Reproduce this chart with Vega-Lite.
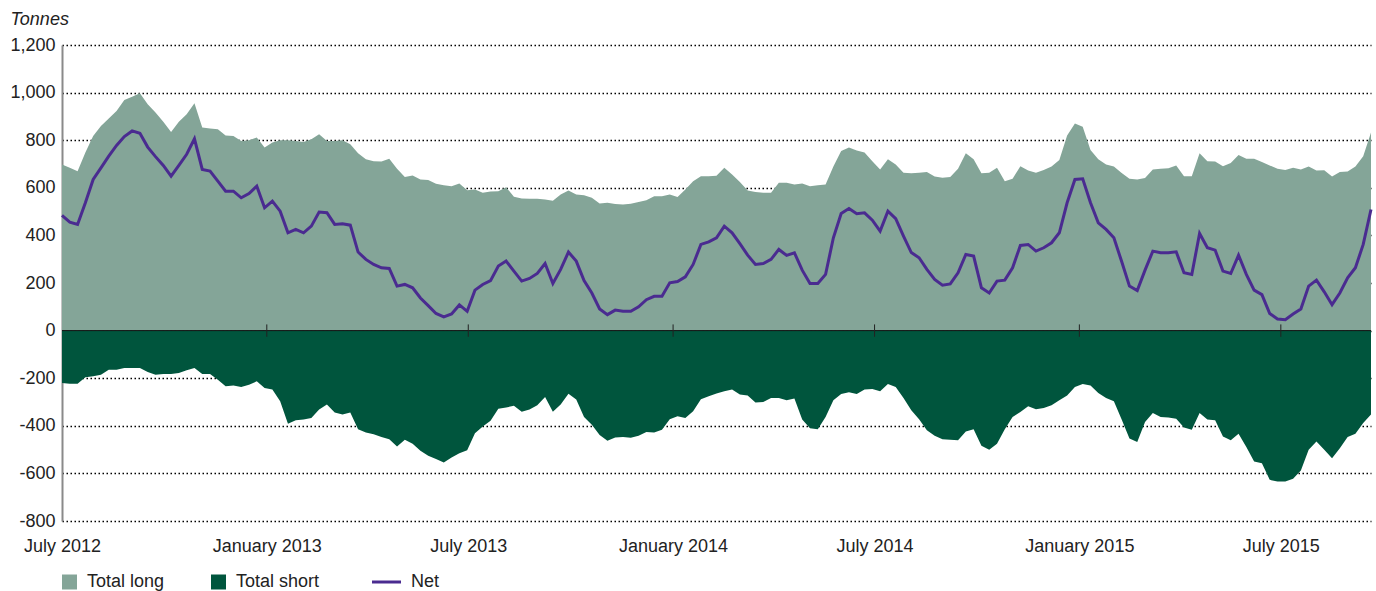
{
 "$schema": "https://vega.github.io/schema/vega-lite/v6.json",
 "width": 1309,
 "height": 476,
 "autosize": {"type": "none"},
 "padding": {"left": 62, "top": 45, "right": 5, "bottom": 70},
 "config": {"view": {"stroke": null}, "font": "Liberation Sans"},
 "data": {"values": [
{"d":"2012-07-01","l":698,"s":-220,"n":484},{"d":"2012-07-08","l":684,"s":-223,"n":456},{"d":"2012-07-15","l":670,"s":-223,"n":446},{"d":"2012-07-22","l":748,"s":-196,"n":537},{"d":"2012-07-29","l":818,"s":-192,"n":635},
{"d":"2012-08-05","l":860,"s":-185,"n":684},{"d":"2012-08-12","l":891,"s":-164,"n":733},{"d":"2012-08-19","l":923,"s":-164,"n":778},{"d":"2012-08-26","l":969,"s":-157,"n":815},
{"d":"2012-09-02","l":983,"s":-157,"n":839},{"d":"2012-09-09","l":997,"s":-157,"n":829},{"d":"2012-09-16","l":951,"s":-174,"n":771},{"d":"2012-09-23","l":916,"s":-185,"n":731},{"d":"2012-09-30","l":877,"s":-182,"n":694},
{"d":"2012-10-07","l":834,"s":-182,"n":649},{"d":"2012-10-14","l":877,"s":-178,"n":694},{"d":"2012-10-21","l":909,"s":-167,"n":741},{"d":"2012-10-28","l":955,"s":-157,"n":806},
{"d":"2012-11-04","l":853,"s":-182,"n":677},{"d":"2012-11-11","l":849,"s":-182,"n":670},{"d":"2012-11-18","l":846,"s":-206,"n":628},{"d":"2012-11-25","l":820,"s":-234,"n":586},
{"d":"2012-12-02","l":818,"s":-231,"n":586},{"d":"2012-12-09","l":797,"s":-237,"n":558},{"d":"2012-12-16","l":800,"s":-227,"n":576},{"d":"2012-12-23","l":811,"s":-213,"n":607},{"d":"2012-12-30","l":769,"s":-241,"n":516},
{"d":"2013-01-06","l":790,"s":-248,"n":544},{"d":"2013-01-13","l":800,"s":-297,"n":502},{"d":"2013-01-20","l":800,"s":-391,"n":411},{"d":"2013-01-27","l":797,"s":-377,"n":425},
{"d":"2013-02-03","l":792,"s":-374,"n":411},{"d":"2013-02-10","l":804,"s":-367,"n":439},{"d":"2013-02-17","l":825,"s":-332,"n":498},{"d":"2013-02-24","l":797,"s":-311,"n":495},
{"d":"2013-03-03","l":797,"s":-344,"n":446},{"d":"2013-03-10","l":800,"s":-353,"n":449},{"d":"2013-03-17","l":783,"s":-344,"n":443},{"d":"2013-03-24","l":745,"s":-414,"n":330},{"d":"2013-03-31","l":720,"s":-428,"n":299},
{"d":"2013-04-07","l":712,"s":-436,"n":278},{"d":"2013-04-14","l":710,"s":-447,"n":264},{"d":"2013-04-21","l":722,"s":-456,"n":261},{"d":"2013-04-28","l":680,"s":-487,"n":187},
{"d":"2013-05-05","l":645,"s":-459,"n":194},{"d":"2013-05-12","l":652,"s":-475,"n":180},{"d":"2013-05-19","l":635,"s":-505,"n":137},{"d":"2013-05-26","l":633,"s":-526,"n":105},
{"d":"2013-06-02","l":617,"s":-539,"n":72},{"d":"2013-06-09","l":611,"s":-554,"n":58},{"d":"2013-06-16","l":607,"s":-533,"n":70},{"d":"2013-06-23","l":618,"s":-515,"n":108},{"d":"2013-06-30","l":590,"s":-503,"n":81},
{"d":"2013-07-07","l":593,"s":-431,"n":170},{"d":"2013-07-14","l":579,"s":-403,"n":194},{"d":"2013-07-21","l":584,"s":-379,"n":210},{"d":"2013-07-28","l":586,"s":-328,"n":271},
{"d":"2013-08-04","l":602,"s":-323,"n":292},{"d":"2013-08-11","l":562,"s":-316,"n":250},{"d":"2013-08-18","l":555,"s":-341,"n":208},{"d":"2013-08-25","l":554,"s":-332,"n":219},
{"d":"2013-09-01","l":554,"s":-314,"n":240},{"d":"2013-09-08","l":551,"s":-279,"n":282},{"d":"2013-09-15","l":546,"s":-341,"n":198},{"d":"2013-09-22","l":572,"s":-311,"n":257},{"d":"2013-09-29","l":589,"s":-265,"n":330},
{"d":"2013-10-06","l":572,"s":-290,"n":292},{"d":"2013-10-13","l":569,"s":-363,"n":210},{"d":"2013-10-20","l":558,"s":-396,"n":158},{"d":"2013-10-27","l":534,"s":-439,"n":91},
{"d":"2013-11-03","l":537,"s":-463,"n":67},{"d":"2013-11-10","l":532,"s":-449,"n":86},{"d":"2013-11-17","l":530,"s":-447,"n":81},{"d":"2013-11-24","l":533,"s":-450,"n":81},
{"d":"2013-12-01","l":540,"s":-442,"n":100},{"d":"2013-12-08","l":548,"s":-426,"n":130},{"d":"2013-12-15","l":565,"s":-428,"n":144},{"d":"2013-12-22","l":565,"s":-417,"n":144},{"d":"2013-12-29","l":572,"s":-372,"n":201},
{"d":"2014-01-05","l":561,"s":-360,"n":206},{"d":"2014-01-12","l":593,"s":-367,"n":226},{"d":"2014-01-19","l":628,"s":-339,"n":278},{"d":"2014-01-26","l":649,"s":-288,"n":362},
{"d":"2014-02-02","l":649,"s":-276,"n":373},{"d":"2014-02-09","l":651,"s":-264,"n":390},{"d":"2014-02-16","l":684,"s":-255,"n":439},{"d":"2014-02-23","l":656,"s":-248,"n":411},
{"d":"2014-03-02","l":624,"s":-268,"n":365},{"d":"2014-03-09","l":589,"s":-273,"n":317},{"d":"2014-03-16","l":582,"s":-302,"n":278},{"d":"2014-03-23","l":579,"s":-300,"n":282},{"d":"2014-03-30","l":579,"s":-283,"n":299},
{"d":"2014-04-06","l":621,"s":-283,"n":341},{"d":"2014-04-13","l":621,"s":-293,"n":316},{"d":"2014-04-20","l":614,"s":-285,"n":327},{"d":"2014-04-27","l":618,"s":-374,"n":254},
{"d":"2014-05-04","l":607,"s":-410,"n":198},{"d":"2014-05-11","l":611,"s":-414,"n":198},{"d":"2014-05-18","l":614,"s":-363,"n":236},{"d":"2014-05-25","l":689,"s":-293,"n":390},
{"d":"2014-06-01","l":755,"s":-266,"n":492},{"d":"2014-06-08","l":769,"s":-259,"n":513},{"d":"2014-06-15","l":757,"s":-266,"n":491},{"d":"2014-06-22","l":748,"s":-248,"n":495},{"d":"2014-06-29","l":712,"s":-245,"n":464},
{"d":"2014-07-06","l":677,"s":-255,"n":418},{"d":"2014-07-13","l":720,"s":-224,"n":502},{"d":"2014-07-20","l":698,"s":-237,"n":470},{"d":"2014-07-27","l":663,"s":-283,"n":397},
{"d":"2014-08-03","l":661,"s":-335,"n":328},{"d":"2014-08-10","l":663,"s":-372,"n":306},{"d":"2014-08-17","l":666,"s":-419,"n":257},{"d":"2014-08-24","l":647,"s":-442,"n":215},{"d":"2014-08-31","l":642,"s":-456,"n":191},
{"d":"2014-09-07","l":645,"s":-459,"n":196},{"d":"2014-09-14","l":680,"s":-461,"n":243},{"d":"2014-09-21","l":745,"s":-424,"n":320},{"d":"2014-09-28","l":720,"s":-414,"n":313},
{"d":"2014-10-05","l":661,"s":-484,"n":180},{"d":"2014-10-12","l":663,"s":-501,"n":158},{"d":"2014-10-19","l":684,"s":-475,"n":208},{"d":"2014-10-26","l":628,"s":-414,"n":212},
{"d":"2014-11-02","l":638,"s":-363,"n":264},{"d":"2014-11-09","l":691,"s":-342,"n":358},{"d":"2014-11-16","l":673,"s":-318,"n":362},{"d":"2014-11-23","l":663,"s":-330,"n":334},{"d":"2014-11-30","l":675,"s":-325,"n":348},
{"d":"2014-12-07","l":689,"s":-314,"n":369},{"d":"2014-12-14","l":717,"s":-293,"n":411},{"d":"2014-12-21","l":820,"s":-273,"n":537},{"d":"2014-12-28","l":870,"s":-237,"n":635},
{"d":"2015-01-04","l":857,"s":-224,"n":638},{"d":"2015-01-11","l":759,"s":-231,"n":537},{"d":"2015-01-18","l":720,"s":-262,"n":453},{"d":"2015-01-25","l":698,"s":-283,"n":425},
{"d":"2015-02-01","l":689,"s":-297,"n":390},{"d":"2015-02-08","l":662,"s":-374,"n":290},{"d":"2015-02-15","l":638,"s":-453,"n":187},{"d":"2015-02-22","l":635,"s":-468,"n":168},
{"d":"2015-03-01","l":641,"s":-384,"n":254},{"d":"2015-03-08","l":677,"s":-346,"n":334},{"d":"2015-03-15","l":680,"s":-363,"n":327},{"d":"2015-03-22","l":682,"s":-365,"n":327},{"d":"2015-03-29","l":694,"s":-370,"n":331},
{"d":"2015-04-05","l":649,"s":-407,"n":243},{"d":"2015-04-12","l":649,"s":-417,"n":236},{"d":"2015-04-19","l":745,"s":-346,"n":408},{"d":"2015-04-26","l":712,"s":-374,"n":348},
{"d":"2015-05-03","l":710,"s":-377,"n":338},{"d":"2015-05-10","l":691,"s":-445,"n":250},{"d":"2015-05-17","l":704,"s":-461,"n":240},{"d":"2015-05-24","l":738,"s":-433,"n":317},{"d":"2015-05-31","l":722,"s":-489,"n":236},
{"d":"2015-06-07","l":722,"s":-550,"n":170},{"d":"2015-06-14","l":708,"s":-557,"n":151},{"d":"2015-06-21","l":694,"s":-627,"n":72},{"d":"2015-06-28","l":680,"s":-634,"n":49},
{"d":"2015-07-05","l":675,"s":-634,"n":46},{"d":"2015-07-12","l":684,"s":-623,"n":70},{"d":"2015-07-19","l":677,"s":-588,"n":91},{"d":"2015-07-26","l":689,"s":-501,"n":187},
{"d":"2015-08-02","l":673,"s":-466,"n":212},{"d":"2015-08-09","l":674,"s":-501,"n":163},{"d":"2015-08-16","l":647,"s":-536,"n":109},{"d":"2015-08-23","l":666,"s":-494,"n":158},{"d":"2015-08-30","l":668,"s":-447,"n":222},
{"d":"2015-09-06","l":689,"s":-433,"n":264},{"d":"2015-09-13","l":733,"s":-388,"n":362},{"d":"2015-09-20","l":832,"s":-353,"n":509}
 ]},
 "layer": [
  {
   "mark": {"type": "area"},
   "encoding": {
    "x": {"field": "d", "type": "temporal", "scale": {"nice": false},
     "axis": {"title": null, "values": [{"year": 2012, "month": 7, "date": 1}, {"year": 2013, "month": 1, "date": 1}, {"year": 2013, "month": 7, "date": 1}, {"year": 2014, "month": 1, "date": 1}, {"year": 2014, "month": 7, "date": 1}, {"year": 2015, "month": 1, "date": 1}, {"year": 2015, "month": 7, "date": 1}],
      "format": "%B %Y", "labelFontSize": 18, "labelColor": "#222", "ticks": false, "tickSize": 0, "domain": false, "grid": false, "labelPadding": 16, "labelFlush": false, "labelOverlap": false, "labelAlign": "center", "labelBaseline": "top"}},
    "y": {"field": "l", "type": "quantitative", "scale": {"domain": [-800, 1200], "nice": false, "zero": true},
     "axis": {"title": "Tonnes", "titleAngle": 0, "titleAlign": "left", "titleBaseline": "alphabetic", "titleX": -52, "titleY": -21, "titleFontStyle": "italic", "titleFontWeight": "normal", "titleFontSize": 18, "titleColor": "#222",
      "values": [-800, -600, -400, -200, 0, 200, 400, 600, 800, 1000, 1200],
      "labelExpr": "(datum.value < 0 ? '-' : '') + format(abs(datum.value), ',')",
      "labelFontSize": 18, "labelColor": "#222", "ticks": false, "tickSize": 0, "labelPadding": 7,
      "domainColor": "#8a8a8a", "domainWidth": 2, "grid": true, "gridColor": "#000", "gridDash": [1.5, 2.5], "gridWidth": 1.3}},
    "y2": {"datum": 0},
    "color": {"datum": "Total long", "type": "nominal",
     "scale": {"domain": ["Total long", "Total short", "Net"], "range": ["#84a598", "#00553d", "#4a2b90"]},
     "legend": {"orient": "none", "legendX": 0, "legendY": 528, "direction": "horizontal", "title": null, "labelFontSize": 18, "labelColor": "#222", "symbolSize": 841, "columnPadding": 46, "labelOffset": 10,
      "encode": {
       "symbols": {"update": {
        "shape": {"signal": "datum.value === 'Net' ? 'stroke' : 'square'"},
        "size": {"signal": "datum.value === 'Net' ? 841 : 225"},
        "x": {"signal": "datum.value === 'Net' ? 14.5 : 7.5"},
        "fill": {"signal": "datum.value === 'Net' ? 'transparent' : scale('color', datum.value)"},
        "stroke": {"signal": "scale('color', datum.value)"},
        "strokeWidth": {"signal": "datum.value === 'Net' ? 3 : 0"},
        "opacity": {"value": 1}, "fillOpacity": {"value": 1}, "strokeOpacity": {"value": 1}
       }},
       "labels": {"update": {"x": {"signal": "datum.value === 'Net' ? 39 : 25"}}}
      }}
    }
   }
  },
  {
   "mark": {"type": "area"},
   "encoding": {
    "x": {"field": "d", "type": "temporal"},
    "y": {"field": "s", "type": "quantitative"},
    "y2": {"datum": 0},
    "color": {"datum": "Total short", "type": "nominal"}
   }
  },
  {
   "data": {"values": [{"z": 0}]},
   "mark": {"type": "rule", "color": "#111", "strokeWidth": 1},
   "encoding": {"y": {"field": "z", "type": "quantitative"}}
  },
  {
   "data": {"values": [{"t": "2013-01-01"}, {"t": "2013-07-01"}, {"t": "2014-01-01"}, {"t": "2014-07-01"}, {"t": "2015-01-01"}, {"t": "2015-07-01"}]},
   "mark": {"type": "rule", "color": "#222", "strokeWidth": 1},
   "encoding": {"x": {"field": "t", "type": "temporal"}, "y": {"datum": -26}, "y2": {"datum": 26}}
  },
  {
   "mark": {"type": "line", "strokeWidth": 3},
   "encoding": {
    "x": {"field": "d", "type": "temporal"},
    "y": {"field": "n", "type": "quantitative"},
    "color": {"datum": "Net", "type": "nominal"}
   }
  }
 ]
}
